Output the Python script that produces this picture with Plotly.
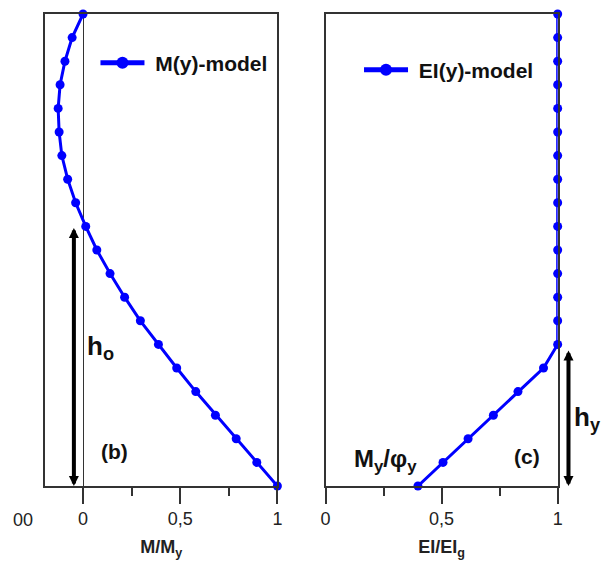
import plotly.graph_objects as go

# Normalised height along the member (y / H)
heights = [0.00, 0.05, 0.10, 0.15, 0.20, 0.25, 0.30, 0.35, 0.40, 0.45, 0.50,
           0.55, 0.60, 0.65, 0.70, 0.75, 0.80, 0.85, 0.90, 0.95, 1.00]

# Moment distribution M/My along the height
moment_ratio = [1.000, 0.894, 0.788, 0.681, 0.580, 0.482, 0.388, 0.295, 0.214, 0.139, 0.071,
                0.014, -0.038, -0.079, -0.109, -0.123, -0.128, -0.118, -0.093, -0.056, 0.000]

# Stiffness distribution EI/EIg along the height
stiffness_ratio = [0.398, 0.506, 0.614, 0.723, 0.829, 0.939, 1.000, 1.000, 1.000, 1.000, 1.000,
                   1.000, 1.000, 1.000, 1.000, 1.000, 1.000, 1.000, 1.000, 1.000, 1.000]

# Height spans marked with arrows
h_o_span = [0.0, 0.55]
h_y_span = [0.0, 0.29]

tick_values = [0, 0.5, 1]
tick_labels = ["0", "0,5", "1"]
minor_tick_values = [0.25, 0.75]

FONT = "Liberation Sans"
BLUE = "#0000FF"
FRAME = "#333333"

W, H = 602, 565
TOP, BOTTOM = 14, 79
PLOT_H = H - TOP - BOTTOM


def px_x(p):
    return p / W


def px_y(p):
    return (H - BOTTOM - p) / PLOT_H


fig = go.Figure()

fig.add_trace(go.Scatter(
    x=moment_ratio, y=heights, mode="lines+markers", name="\u00a0<b>M(y)-model</b>",
    line=dict(color=BLUE, width=3), marker=dict(color=BLUE, size=9),
    cliponaxis=False, xaxis="x", yaxis="y", legend="legend",
))
fig.add_trace(go.Scatter(
    x=stiffness_ratio, y=heights, mode="lines+markers", name="\u00a0<b>EI(y)-model</b>",
    line=dict(color=BLUE, width=3), marker=dict(color=BLUE, size=9),
    cliponaxis=False, xaxis="x2", yaxis="y2", legend="legend2",
))

common_x = dict(
    tickvals=tick_values, ticktext=tick_labels,
    ticks="outside", ticklen=16, tickwidth=1.5, tickcolor=FRAME,
    minor=dict(tickvals=minor_tick_values, ticks="outside", ticklen=8,
               tickwidth=1.5, tickcolor=FRAME),
    showline=True, mirror=True, linecolor=FRAME, linewidth=1.5,
    showgrid=False,
    tickfont=dict(family=FONT, size=18, color="#222222"),
    title_font=dict(family=FONT, size=18, color="#222222"),
    title_standoff=12,
)
common_y = dict(
    domain=[0, 1], range=[0, 1], showticklabels=False, ticks="",
    showline=True, mirror=True, linecolor=FRAME, linewidth=1.5,
    showgrid=False, zeroline=False,
)

legend_font = dict(family=FONT, size=21, color="#111111")

fig.update_layout(
    width=W, height=H,
    margin=dict(l=0, r=0, t=TOP, b=BOTTOM),
    paper_bgcolor="white", plot_bgcolor="white",
    separators=",.",
    xaxis=dict(domain=[px_x(41), px_x(277)], range=[-0.194, 1.0],
               zeroline=True, zerolinecolor=FRAME, zerolinewidth=1.2,
               title_text="<b>M/M<sub>y</sub></b>", anchor="y", **common_x),
    yaxis=dict(anchor="x", **common_y),
    xaxis2=dict(domain=[px_x(326), px_x(562)], range=[0, 1.0], zeroline=False,
                title_text="<b>EI/EI<sub>g</sub></b>", anchor="y2", **common_x),
    yaxis2=dict(anchor="x2", **common_y),
    showlegend=True,
    legend=dict(x=px_x(92), y=px_y(63), xanchor="left", yanchor="middle",
                bgcolor="rgba(0,0,0,0)", itemwidth=44, itemsizing="constant",
                font=legend_font),
    legend2=dict(x=px_x(360), y=px_y(70), xanchor="left", yanchor="middle",
                 bgcolor="rgba(0,0,0,0)", itemwidth=44, itemsizing="constant",
                 font=legend_font),
)

text_font = dict(family=FONT, color="#111111")

# Panel labels and symbols
fig.add_annotation(xref="paper", yref="paper", x=px_x(81), y=px_y(347),
                   xanchor="left", yanchor="middle", showarrow=False,
                   text="<b>h<sub>o</sub></b>", font=dict(size=26, **text_font))
fig.add_annotation(xref="paper", yref="paper", x=px_x(111), y=px_y(451),
                   xanchor="center", yanchor="middle", showarrow=False,
                   text="<b>(b)</b>", font=dict(size=21, **text_font))
fig.add_annotation(xref="paper", yref="paper", x=px_x(531), y=px_y(456),
                   xanchor="center", yanchor="middle", showarrow=False,
                   text="<b>(c)</b>", font=dict(size=21, **text_font))
fig.add_annotation(xref="paper", yref="paper", x=px_x(353), y=px_y(460),
                   xanchor="left", yanchor="middle", showarrow=False,
                   text="<b>M<sub>y</sub>/φ<sub>y</sub></b>", font=dict(size=24, **text_font))
fig.add_annotation(xref="paper", yref="paper", x=px_x(577), y=px_y(418),
                   xanchor="left", yanchor="middle", showarrow=False,
                   text="<b>h<sub>y</sub></b>", font=dict(size=26, **text_font))
fig.add_annotation(xref="paper", yref="paper", x=px_x(31), y=px_y(520),
                   xanchor="right", yanchor="middle", showarrow=False,
                   text="00", font=dict(size=18, family=FONT, color="#222222"))

# Double-headed span arrows
fig.add_annotation(xref="x", yref="y", x=-0.047, y=h_o_span[0],
                   axref="x", ayref="y", ax=-0.047, ay=h_o_span[1],
                   text="", showarrow=True, arrowside="end+start",
                   arrowhead=2, arrowsize=0.5, arrowwidth=4, arrowcolor="black")
fig.add_annotation(xref="paper", yref="y2", x=px_x(573), y=h_y_span[0],
                   axref="pixel", ayref="y2", ax=0, ay=h_y_span[1],
                   text="", showarrow=True, arrowside="end+start",
                   arrowhead=2, arrowsize=0.5, arrowwidth=4, arrowcolor="black")

fig.write_html("out.html")
